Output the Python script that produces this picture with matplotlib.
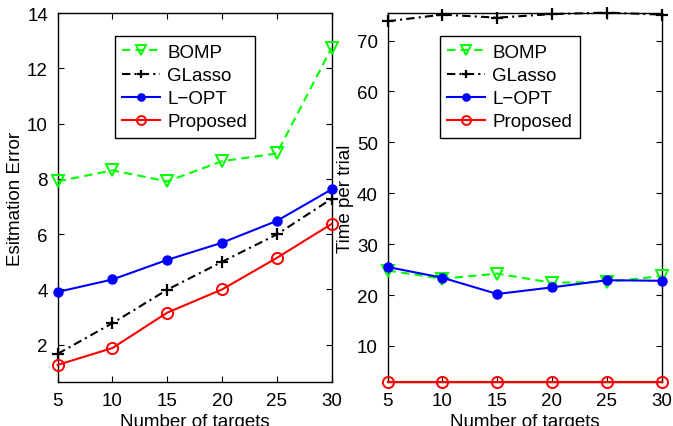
import matplotlib
matplotlib.use("Agg")
import matplotlib.pyplot as plt

plt.rcParams['font.family'] = ['Liberation Sans', 'DejaVu Sans']

targets = [5, 10, 15, 20, 25, 30]

err_bomp = [7.91, 8.31, 7.91, 8.64, 8.92, 12.74]
err_glasso = [1.67, 2.78, 3.99, 5.00, 5.99, 7.28]
err_lopt = [3.91, 4.36, 5.07, 5.69, 6.48, 7.62]
err_prop = [1.27, 1.88, 3.16, 4.00, 5.14, 6.37]

time_bomp = [24.8, 23.2, 24.2, 22.4, 22.6, 23.7]
time_glasso = [73.8, 75.1, 74.5, 75.2, 75.5, 75.1]
time_lopt = [25.5, 23.4, 20.2, 21.5, 22.9, 22.8]
time_prop = [2.9, 2.9, 2.9, 2.9, 2.9, 2.9]

labels = ['BOMP', 'GLasso', 'L\u2212OPT', 'Proposed']

FS = 13.5

fig = plt.figure(figsize=(6.73, 4.27), dpi=100)
ax1 = fig.add_axes([0.0857, 0.103, 0.407, 0.864])
ax2 = fig.add_axes([0.576, 0.103, 0.407, 0.864])

def draw(ax, b, g, l, p):
    ax.plot(targets, b, color=(0, 1, 0), ls=(0, (4, 2.5)), lw=1.5, marker='v',
            ms=8.5, mfc='none', mec=(0, 1, 0), mew=1.4, label=labels[0], clip_on=False, zorder=3)
    ax.plot(targets, g, color='k', ls=(0, (4, 2, 1, 2)), lw=1.5, marker='+',
            ms=8, mew=1.6, label=labels[1], clip_on=False, zorder=3)
    ax.plot(targets, l, color='b', ls='-', lw=1.5, marker='o',
            ms=6.5, mfc='b', mec='b', label=labels[2], clip_on=False, zorder=3)
    ax.plot(targets, p, color='r', ls='-', lw=1.5, marker='o',
            ms=8, mfc='none', mec='r', mew=1.4, label=labels[3], clip_on=False, zorder=3)
    ax.set_xlim(5, 30)
    ax.set_xticks(targets)
    ax.tick_params(direction='in', top=True, right=True, labelsize=FS, length=4, pad=7)
    for s in ax.spines.values():
        s.set_linewidth(1.0)
    ax.set_xlabel('Number of targets', fontsize=FS, labelpad=3)

def legend(ax, x):
    leg = ax.legend(loc='upper left', bbox_to_anchor=(x, 0.937), fontsize=FS,
                    frameon=True, fancybox=False, edgecolor='k', handlelength=2.0,
                    numpoints=1, borderpad=0.4, labelspacing=0.32, handletextpad=0.4,
                    borderaxespad=0, markerscale=0.8, framealpha=1)
    leg.get_frame().set_linewidth(1.0)

draw(ax1, err_bomp, err_glasso, err_lopt, err_prop)
ax1.set_ylim(0.65, 14)
ax1.set_yticks([2, 4, 6, 8, 10, 12, 14])
ax1.set_ylabel('Esitmation Error', fontsize=FS, labelpad=2)
legend(ax1, 0.209)

draw(ax2, time_bomp, time_glasso, time_lopt, time_prop)
ax2.set_ylim(2.9, 75.4)
ax2.set_yticks([10, 20, 30, 40, 50, 60, 70])
ax2.set_ylabel('Time per trial', fontsize=FS, labelpad=2)
legend(ax2, 0.191)

fig.savefig('out.png', dpi=100)
